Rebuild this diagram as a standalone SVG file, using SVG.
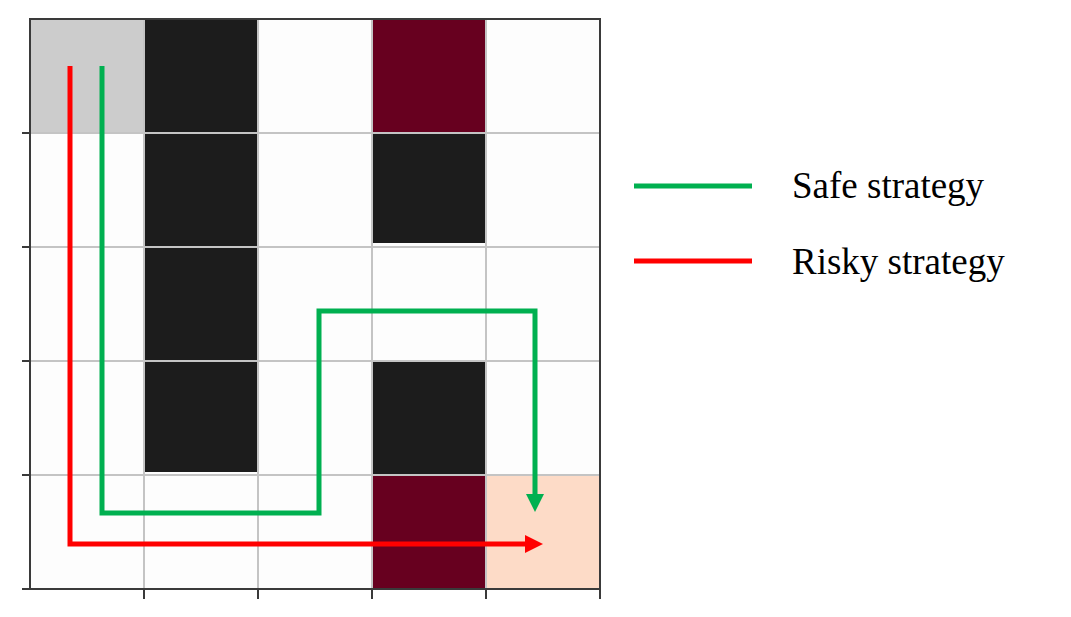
<svg xmlns="http://www.w3.org/2000/svg" width="1071" height="617" viewBox="0 0 1071 617">
<defs>
<style>
.grid{stroke:#c4c4c4;stroke-width:2;fill:none}
.axis{stroke:#3a3a3a;stroke-width:2;fill:none}
.safe{stroke:#00B050;stroke-width:5;fill:none}
.risky{stroke:#FF0000;stroke-width:5;fill:none}
.hs{fill:#00B050}
.hr{fill:#FF0000}
.lbl{font-family:"Liberation Serif","Times New Roman",serif;font-size:37px;fill:#000}
</style>
</defs>
<rect width="1071" height="617" fill="#fff"/>
<g id="grid">
<rect x="30" y="19" width="570" height="570" fill="#fdfdfd"/>
<rect x="30" y="19" width="114" height="114" fill="#cccccc"/>
<rect x="144" y="19" width="114" height="453" fill="#1c1c1c"/>
<rect x="372" y="19" width="114" height="114" fill="#67001f"/>
<rect x="372" y="133" width="114" height="110" fill="#1c1c1c"/>
<rect x="372" y="362" width="114" height="113" fill="#1c1c1c"/>
<rect x="372" y="475" width="114" height="114" fill="#67001f"/>
<rect x="486" y="475" width="114" height="114" fill="#fddbc7"/>
<path class="grid" d="M144,19V589M258,19V589M372,19V589M486,19V589M30,133H600M30,247H600M30,361H600M30,475H600"/>
<rect class="axis" x="30" y="19" width="570" height="570"/>
<path class="axis" d="M22,133H30M22,247H30M22,361H30M22,475H30M22,589H30M144,589V599M258,589V599M372,589V599M486,589V599M600,589V599"/>
</g>
<g id="connectors">
<path class="safe" d="M102,66V513H319V311H535V496"/>
<polygon class="hs" points="526,494 544,494 535,512"/>
<path class="risky" d="M70,66V544H527"/>
<polygon class="hr" points="525,535 543,544 525,553"/>
</g>
<g id="legend-safe">
<line class="safe" x1="634" y1="186" x2="752" y2="186"/>
<text class="lbl" x="792" y="198">Safe strategy</text>
</g>
<g id="legend-risky">
<line class="risky" x1="634" y1="261" x2="752" y2="261"/>
<text class="lbl" x="792" y="274">Risky strategy</text>
</g>
</svg>
